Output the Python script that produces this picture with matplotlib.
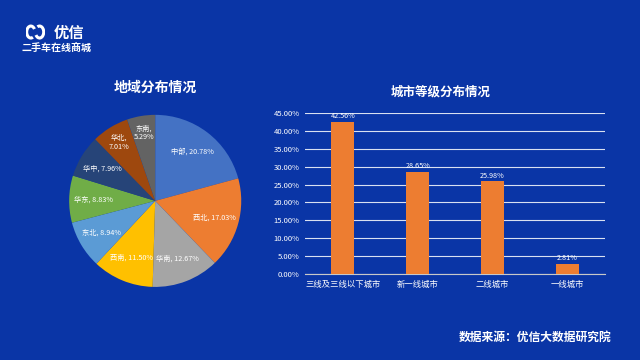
import numpy as np
import matplotlib
matplotlib.use('Agg')
import matplotlib.pyplot as plt
from matplotlib.patches import Arc

plt.rcParams['font.family'] = ['Noto Sans CJK SC', 'DejaVu Sans']

# du lieu bieu do tron
regions = ['中部', '西北', '华南', '西南', '东北', '华东', '华中', '华北', '东南']
region_pct = [20.78, 17.03, 12.67, 11.50, 8.94, 8.83, 7.96, 7.01, 5.29]
pie_colors = ['#4472C4', '#ED7D31', '#A5A5A5', '#FFC000', '#5B9BD5',
              '#70AD47', '#264478', '#9E480E', '#636363']

# du lieu bieu do cot
city_levels = ['三线及三线以下城市', '新一线城市', '二线城市', '一线城市']
city_pct = [42.56, 28.65, 25.98, 2.81]
yticks = [0, 5, 10, 15, 20, 25, 30, 35, 40, 45]

bg = '#0A35A6'
fig = plt.figure(figsize=(6.4, 3.6), dpi=100, facecolor=bg)

# logo
fig.text(0.084, 0.908, '优信', color='white', fontsize=11, fontweight='bold',
         ha='left', va='center')
fig.text(0.034, 0.868, '二手车在线商城', color='white', fontsize=7.2, fontweight='bold',
         ha='left', va='center')
lax = fig.add_axes([0.04, 0.89, 0.03, 0.042])
lax.set_xlim(0, 2.2)
lax.set_ylim(-0.6, 0.6)
lax.axis('off')
lax.add_patch(Arc((0.6, 0), 0.95, 0.95, theta1=30, theta2=300, lw=2.2, color='white'))
lax.add_patch(Arc((1.6, 0), 0.95, 0.95, theta1=210, theta2=120, lw=2.2, color='white'))

# pie chart
fig.text(0.242, 0.756, '地域分布情况', color='white', fontsize=10, fontweight='bold',
         ha='center', va='center')
pax = fig.add_axes([0.108, 0.203, 0.269, 0.478])
wedges, _ = pax.pie(region_pct, colors=pie_colors, startangle=90, counterclock=False,
                    wedgeprops=dict(linewidth=0))
pax.set_xlim(-1, 1)
pax.set_ylim(-1, 1)
pax.set_aspect('equal')
for w, name, v in zip(wedges, regions, region_pct):
    ang = np.deg2rad((w.theta1 + w.theta2) / 2)
    if v < 7.5:
        txt = f'{name},\n{v:.2f}%'
        r = 0.8
    else:
        txt = f'{name}, {v:.2f}%'
        r = 0.72
    pax.text(r * np.cos(ang), r * np.sin(ang), txt, color='white', fontsize=5.2,
             ha='center', va='center', linespacing=1.1)

# bar chart
fig.text(0.688, 0.745, '城市等级分布情况', color='white', fontsize=9, fontweight='bold',
         ha='center', va='center')
bax = fig.add_axes([0.477, 0.239, 0.468, 0.447])
bax.set_facecolor(bg)
x = np.arange(len(city_levels))
bars = bax.bar(x, city_pct, width=0.31, color='#ED7D31', zorder=3)
for xi, v in zip(x, city_pct):
    bax.text(xi, v + 0.4, f'{v:.2f}%', color='white', fontsize=5.2, ha='center',
             va='bottom', zorder=4)
bax.set_xlim(-0.5, 3.5)
bax.set_ylim(0, 45)
bax.set_yticks(yticks)
bax.set_yticklabels([f'{t:.2f}%' for t in yticks])
bax.set_xticks(x)
bax.set_xticklabels(city_levels)
bax.tick_params(axis='y', colors='white', labelsize=5.5, length=0, pad=4)
bax.tick_params(axis='x', colors='white', labelsize=6, length=0, pad=4)
bax.grid(axis='y', color='white', linewidth=0.8, alpha=0.85, zorder=0)
for s in ['top', 'right', 'left']:
    bax.spines[s].set_visible(False)
bax.spines['bottom'].set_color('#C8C8C8')

fig.text(0.956, 0.062, '数据来源：优信大数据研究院', color='white', fontsize=8.5,
         fontweight='bold', ha='right', va='center')

fig.savefig('out.png', dpi=100, facecolor=bg)
